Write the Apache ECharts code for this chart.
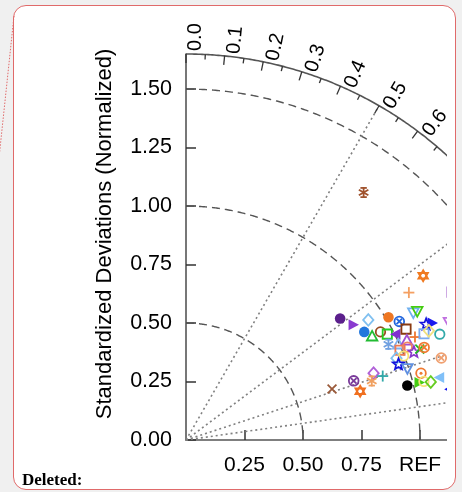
<!DOCTYPE html>
<html><head><meta charset="utf-8">
<script src="https://cdn.jsdelivr.net/npm/echarts@6/dist/echarts.min.js"></script>
<style>
html,body{margin:0;padding:0;background:#f0f0f0;width:462px;height:492px;overflow:hidden;}
#frame{position:absolute;left:13px;top:5px;width:441px;height:483px;border:1.5px solid #e06a6a;border-radius:13px;background:#fff;}
#chart{position:absolute;left:0;top:0;width:447px;height:492px;}
</style></head><body>
<div id="frame"></div>
<div id="chart"></div>
<script>
// ---- data (normalized standard deviation & correlation per model) ----
const stdDev = [1.233,1.142,1.301,0.839,0.868,0.933,1.012,1.043,1.114,1.132,1.139,1.165,1.232,0.891,0.951,0.972,0.910,1.004,1.053,1.073,1.114,1.138,1.175,0.957,0.995,1.035,0.992,1.026,1.044,1.072,1.092,0.965,0.997,0.964,0.995,1.146,1.044,1.116,1.149,0.851,0.884,0.833,0.760,0.661,0.773,0.974,1.026,1.047,1.075,1.302];
const correlation = [0.822,0.834,0.874,0.785,0.823,0.835,0.855,0.874,0.872,0.873,0.901,0.903,0.912,0.855,0.874,0.885,0.874,0.893,0.893,0.912,0.913,0.912,0.923,0.904,0.912,0.912,0.922,0.922,0.933,0.932,0.932,0.932,0.933,0.942,0.951,0.952,0.962,0.971,0.982,0.942,0.951,0.953,0.943,0.944,0.963,0.971,0.971,0.971,0.973,0.583];
// marker style per model
const markerShape = ['star6','plus','square','dot','triRight','diamond','dot','circleX','triDown','triDown','star5','triRight','triDown','dot','circle','square','triUp','triLeft','square','plus','square','diamond','circle','asterisk','triUp','triUp','square','circle','star5','cross','circleX','diamond','circle','star5','triDown','circleX','circleDot','triLeft','triLeft','diamond','plus','asterisk','circleX','cross','star6','dot','triRight','circle','diamond','asterisk'];
const markerColor = ['#f07a20','#f4a062','#9040c0','#5b1f8c','#8a3ad0','#80c0f0','#ee7722','#2266dd','#70b0f0','#44cc11','#1111dd','#1a1aee','#c070e0','#2277dd','#9a4a20','#22cc22','#22bb33','#8030d0','#8a3a10','#ee7733','#7aaaf0','#f0e080','#33aaaa','#70a0e0','#80b0f0','#a050d0','#f07850','#f08060','#8a3acc','#22bb22','#f07a30','#80c0f0','#f5e070','#1111dd','#6090e0','#f0a070','#f07a30','#80c0f8','#1111ee','#b060d8','#30a8a8','#f0a060','#7a3a9a','#9a5a3a','#f07020','#000000','#44cc11','#f5e27a','#66cc22','#a0522d'];
// axis / guide values
const maxSD = 1.65;
const sdArcs = [0.5, 1.0, 1.5];
const corLines = [0.5, 0.8, 0.95, 0.99];
const corLabelValues = [0,0.1,0.2,0.3,0.4,0.5,0.6,0.7,0.8,0.9,0.95,0.99];
const corMinorTicks = [0.05,0.15,0.25,0.35,0.45,0.55,0.65,0.75,0.85];
const xTickLabels = {0.25:'0.25', 0.5:'0.50', 0.75:'0.75', 1:'REF'};

const FONT = '"Liberation Sans", Arial, Helvetica, sans-serif';
const chart = echarts.init(document.getElementById('chart'), null, {renderer:'canvas'});

function fmtCor(c){ return (c===0.95||c===0.99) ? c.toFixed(2) : c.toFixed(1); }

function marker(shape, color, cx, cy){
  const k = 1.1;
  const S = {stroke:color, lineWidth:1.8, fill:'none'};
  const L = (x1,y1,x2,y2) => ({type:'line', shape:{x1,y1,x2,y2}, style:{stroke:color, lineWidth:1.8}});
  switch(shape){
    case 'dot': return {type:'circle', shape:{cx,cy,r:4.8*k}, style:{fill:color}};
    case 'circle': return {type:'circle', shape:{cx,cy,r:4.3*k}, style:S};
    case 'circleX': return {type:'group', children:[
      {type:'circle', shape:{cx,cy,r:4.4*k}, style:S},
      L(cx-2.8,cy-2.8,cx+2.8,cy+2.8), L(cx-2.8,cy+2.8,cx+2.8,cy-2.8)]};
    case 'circleDot': return {type:'group', children:[
      {type:'circle', shape:{cx,cy,r:4.4*k}, style:S},
      {type:'circle', shape:{cx,cy,r:1.5}, style:{fill:color}}]};
    case 'square': return {type:'rect', shape:{x:cx-4.2*k,y:cy-4.2*k,width:8.4*k,height:8.4*k}, style:S};
    case 'triUp': return {type:'polygon', shape:{points:[[cx,cy-5.2*k],[cx+4.8*k,cy+3.6*k],[cx-4.8*k,cy+3.6*k]]}, style:S};
    case 'triDown': return {type:'polygon', shape:{points:[[cx,cy+5.2*k],[cx+4.8*k,cy-3.6*k],[cx-4.8*k,cy-3.6*k]]}, style:S};
    case 'triLeft': return {type:'polygon', shape:{points:[[cx-5.3*k,cy],[cx+4.2*k,cy-5*k],[cx+4.2*k,cy+5*k]]}, style:{fill:color}};
    case 'triRight': return {type:'polygon', shape:{points:[[cx+5.3*k,cy],[cx-4.2*k,cy-5*k],[cx-4.2*k,cy+5*k]]}, style:{fill:color}};
    case 'diamond': return {type:'polygon', shape:{points:[[cx,cy-5.3*k],[cx+4.7*k,cy],[cx,cy+5.3*k],[cx-4.7*k,cy]]}, style:S};
    case 'plus': return {type:'group', children:[L(cx-5.5,cy,cx+5.5,cy), L(cx,cy-5.5,cx,cy+5.5)]};
    case 'cross': return {type:'group', children:[L(cx-4.4,cy-4.4,cx+4.4,cy+4.4), L(cx-4.4,cy+4.4,cx+4.4,cy-4.4)]};
    case 'asterisk': {
      const ch=[]; for(let j=0;j<3;j++){ const a=Math.PI/2+j*Math.PI/3; ch.push(L(cx-5.5*Math.cos(a),cy-5.5*Math.sin(a),cx+5.5*Math.cos(a),cy+5.5*Math.sin(a))); }
      ch.push(L(cx-3.2,cy-4.6,cx+3.2,cy-4.6)); ch.push(L(cx-3.2,cy+4.6,cx+3.2,cy+4.6));
      return {type:'group', children:ch};
    }
    case 'star5': {
      const pts=[]; for(let j=0;j<10;j++){ const r=j%2?2.6:6.0; const a=-Math.PI/2+j*Math.PI/5; pts.push([cx+r*Math.cos(a), cy+r*Math.sin(a)]); }
      return {type:'polygon', shape:{points:pts}, style:{stroke:color, lineWidth:1.7, fill:'none'}};
    }
    case 'star6': {
      const t1=[],t2=[]; for(let j=0;j<3;j++){ const a=-Math.PI/2+j*2*Math.PI/3; t1.push([cx+5.5*Math.cos(a), cy+5.5*Math.sin(a)]); t2.push([cx-5.5*Math.cos(a), cy-5.5*Math.sin(a)]); }
      return {type:'group', children:[
        {type:'polygon', shape:{points:t1}, style:{stroke:color, lineWidth:1.8, fill:'none'}},
        {type:'polygon', shape:{points:t2}, style:{stroke:color, lineWidth:1.8, fill:'none'}}]};
    }
  }
  return {type:'group', children:[]};
}

const modelData = stdDev.map((s,i) => [s*correlation[i], s*Math.sqrt(1-correlation[i]*correlation[i]), i]);

const option = {
  animation:false,
  grid:{left:186, top:54, right:0, bottom:52, containLabel:false},
  xAxis:{type:'value', min:0, max:261/234, interval:0.25,
    axisLine:{show:true, lineStyle:{color:'#555', width:1.6}},
    axisTick:{show:true, inside:true, length:10, lineStyle:{color:'#333', width:1.5}},
    axisLabel:{show:true, showMaxLabel:false, showMinLabel:false, margin:15, fontSize:21, fontFamily:FONT, color:'#000',
      formatter: v => xTickLabels[v] !== undefined ? xTickLabels[v] : ''},
    splitLine:{show:false}},
  yAxis:{type:'value', min:0, max:maxSD, interval:0.25,
    axisLine:{show:true, lineStyle:{color:'#555', width:1.6}},
    axisTick:{show:true, inside:true, length:10, lineStyle:{color:'#333', width:1.5}},
    axisLabel:{show:true, showMaxLabel:false, margin:14, fontSize:21.5, fontFamily:FONT, color:'#000',
      formatter: v => v.toFixed(2)},
    splitLine:{show:false}},
  graphic:[
    {type:'text', x:105, y:234, rotation:Math.PI/2, style:{text:'Standardized Deviations (Normalized)', fill:'#000', font:'22px '+FONT, align:'center', verticalAlign:'middle'}},
    {type:'text', x:22, y:481, style:{text:'Deleted:', fill:'#000', font:'bold 17px "Liberation Serif", "Times New Roman", serif', align:'left', verticalAlign:'middle'}},
    {type:'line', shape:{x1:14, y1:16, x2:-1, y2:158}, style:{stroke:'#e06a6a', lineWidth:1, lineDash:[1.5,1.5]}}
  ],
  series:[
    {type:'custom', coordinateSystem:'cartesian2d', silent:true, clip:false, z:1,
      encode:{x:0, y:1}, data:[[0,0]],
      renderItem:function(params, api){
        const ch=[];
        const P=(r,a)=>api.coord([r*Math.cos(a), r*Math.sin(a)]);
        const arc=(r,style)=>{ const pts=[]; for(let i=0;i<=300;i++){ pts.push(P(r, Math.PI/2*(1-i/300))); } return {type:'polyline', shape:{points:pts}, style}; };
        sdArcs.forEach(r=>ch.push(arc(r,{stroke:'#555', lineWidth:1.4, lineDash:[8,5], fill:'none'})));
        corLines.forEach(c=>{ const a=Math.acos(c); const p0=P(0,a), p1=P(maxSD,a);
          ch.push({type:'line', shape:{x1:p0[0],y1:p0[1],x2:p1[0],y2:p1[1]}, style:{stroke:'#808080', lineWidth:1.6, lineDash:[2,3]}}); });
        ch.push(arc(maxSD,{stroke:'#555', lineWidth:1.6, fill:'none'}));
        const tick=(c,len)=>{ const a=Math.acos(c); const p1=P(maxSD,a); const u=[Math.cos(a),-Math.sin(a)];
          return {type:'line', shape:{x1:p1[0],y1:p1[1],x2:p1[0]-u[0]*len,y2:p1[1]-u[1]*len}, style:{stroke:'#333', lineWidth:1.3}}; };
        corLabelValues.forEach(c=>ch.push(tick(c,9)));
        corMinorTicks.forEach(c=>ch.push(tick(c,5)));
        corLabelValues.forEach(c=>{ const a=Math.acos(c); const p1=P(maxSD,a); const u=[Math.cos(a),-Math.sin(a)]; const n=[Math.sin(a),Math.cos(a)];
          const gap=3, off=9;
          ch.push({type:'text', x:p1[0]+u[0]*gap+n[0]*off, y:p1[1]+u[1]*gap+n[1]*off, rotation:a,
            style:{text:fmtCor(c), fill:'#000', font:'20px '+FONT, align:'left', verticalAlign:'middle'}}); });
        return {type:'group', children:ch};
      }},
    {type:'custom', coordinateSystem:'cartesian2d', silent:true, clip:false, z:3,
      encode:{x:0, y:1}, data:modelData,
      renderItem:function(params, api){
        const p=api.coord([api.value(0), api.value(1)]);
        const i=api.value(2);
        return marker(markerShape[i], markerColor[i], p[0], p[1]);
      }}
  ]
};
chart.setOption(option);
</script></body></html>
